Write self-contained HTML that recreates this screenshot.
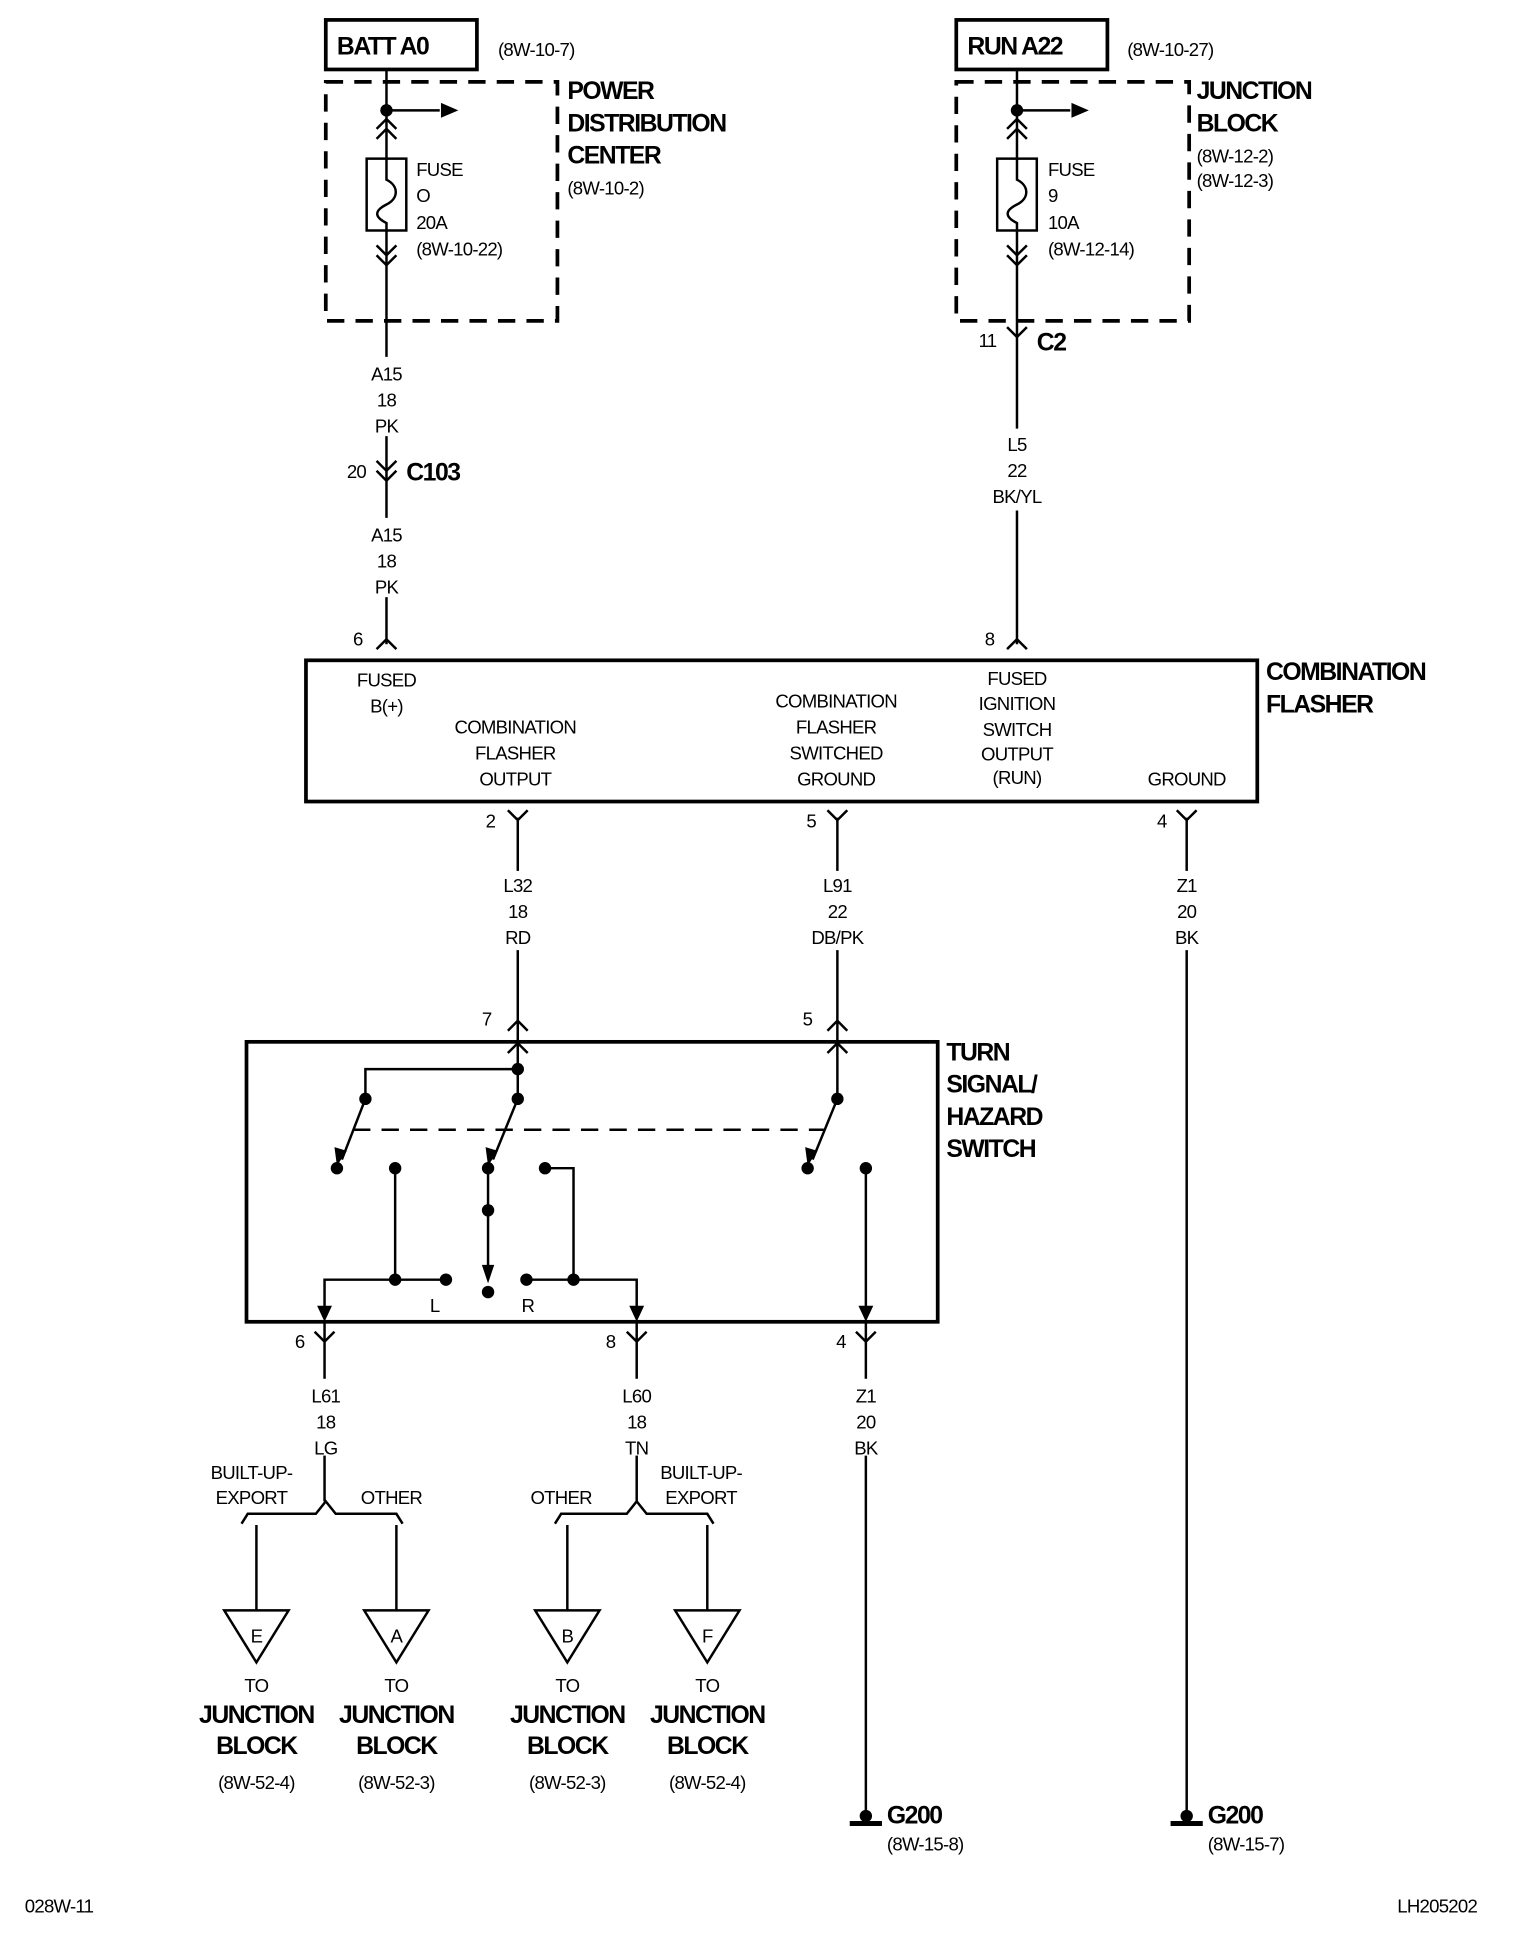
<!DOCTYPE html>
<html><head><meta charset="utf-8"><style>
html,body{margin:0;padding:0;background:#fff}
svg{display:block}
text{font-family:"Liberation Sans Narrow","Liberation Sans",sans-serif;fill:#000}
.t{font-size:15px;letter-spacing:-0.6px}
.b{font-size:20px;font-weight:bold;letter-spacing:-1.2px}
</style></head><body>
<svg width="1536" height="1940" viewBox="0 0 1240 1566" xmlns="http://www.w3.org/2000/svg">
<g stroke="#000" stroke-width="2" fill="none">
<!-- top left -->
<rect x="263" y="16" width="122" height="40" stroke-width="3"/>
<rect x="263" y="66" width="187" height="193" stroke-width="3" stroke-dasharray="14,9"/>
<line x1="312" y1="56" x2="312" y2="288"/>
<line x1="312" y1="352" x2="312" y2="418"/>
<line x1="312" y1="482" x2="312" y2="520"/>
<line x1="312" y1="89" x2="355" y2="89"/>
<polyline points="304,104 312,96 320,104"/><polyline points="304,112 312,104 320,112"/>
<rect x="296" y="128" width="32" height="58" fill="#fff"/>
<path d="M312 128 V145 C322 150 322 160 312 165 C302 170 302 175 312 180 V186"/>
<polyline points="304,198 312,206 320,198"/><polyline points="304,206 312,214 320,206"/>
<polyline points="304,372 312,380 320,372"/><polyline points="304,380 312,388 320,380"/>
<polyline points="304,524 312,516 320,524"/>
<!-- top right -->
<rect x="772" y="16" width="122" height="40" stroke-width="3"/>
<rect x="772" y="66" width="188" height="193" stroke-width="3" stroke-dasharray="14,9"/>
<line x1="821" y1="56" x2="821" y2="346"/>
<line x1="821" y1="412" x2="821" y2="520"/>
<line x1="821" y1="89" x2="864" y2="89"/>
<polyline points="813,104 821,96 829,104"/><polyline points="813,112 821,104 829,112"/>
<rect x="805" y="128" width="32" height="58" fill="#fff"/>
<path d="M821 128 V145 C831 150 831 160 821 165 C811 170 811 175 821 180 V186"/>
<polyline points="813,198 821,206 829,198"/><polyline points="813,206 821,214 829,206"/>
<polyline points="813,264 821,272 829,264"/>
<polyline points="813,524 821,516 829,524"/>
<!-- flasher -->
<rect x="247" y="533" width="768" height="114" stroke-width="3"/>
<line x1="418" y1="660" x2="418" y2="703"/><line x1="418" y1="767" x2="418" y2="841"/>
<line x1="676" y1="660" x2="676" y2="703"/><line x1="676" y1="767" x2="676" y2="841"/>
<line x1="958" y1="660" x2="958" y2="703"/><line x1="958" y1="767" x2="958" y2="1465"/>
<polyline points="410,654 418,662 426,654"/>
<polyline points="668,654 676,662 684,654"/>
<polyline points="950,654 958,662 966,654"/>
<polyline points="410,832 418,824 426,832"/>
<polyline points="668,832 676,824 684,832"/>
<polyline points="410,850 418,842 426,850"/>
<polyline points="668,850 676,842 684,850"/>
<!-- switch -->
<rect x="199" y="841" width="558" height="226" stroke-width="3"/>
<polyline points="418,841 418,887"/>
<polyline points="418,863 295,863 295,887"/>
<line x1="295" y1="887" x2="276" y2="936"/>
<line x1="418" y1="887" x2="398" y2="936"/>
<line x1="676" y1="841" x2="676" y2="887"/>
<line x1="676" y1="887" x2="656" y2="936"/>
<line x1="285" y1="912" x2="665" y2="912" stroke-dasharray="14,9"/>
<line x1="319" y1="943" x2="319" y2="1033"/>
<polyline points="262,1060 262,1033 360,1033"/>
<line x1="394" y1="943" x2="394" y2="1030"/>
<polyline points="440,943 463,943 463,1033"/>
<polyline points="425,1033 514,1033 514,1060"/>
<line x1="699" y1="943" x2="699" y2="1060"/>
<polyline points="254,1075 262,1083 270,1075"/>
<polyline points="506,1075 514,1083 522,1075"/>
<polyline points="691,1075 699,1083 707,1075"/>
<line x1="262" y1="1067" x2="262" y2="1113"/><line x1="262" y1="1175" x2="262" y2="1212"/>
<line x1="514" y1="1067" x2="514" y2="1113"/><line x1="514" y1="1175" x2="514" y2="1212"/>
<line x1="699" y1="1067" x2="699" y2="1113"/><line x1="699" y1="1175" x2="699" y2="1465"/>
<!-- braces -->
<polyline points="195,1230 200,1222 255,1222 263,1212 271,1222 320,1222 325,1230"/>
<polyline points="448,1230 453,1222 506,1222 514,1212 522,1222 571,1222 576,1230"/>
<line x1="207" y1="1231" x2="207" y2="1300"/>
<line x1="320" y1="1231" x2="320" y2="1300"/>
<line x1="458" y1="1231" x2="458" y2="1300"/>
<line x1="571" y1="1231" x2="571" y2="1300"/>
<polygon points="181,1300 233,1300 207,1342"/>
<polygon points="294,1300 346,1300 320,1342"/>
<polygon points="432,1300 484,1300 458,1342"/>
<polygon points="545,1300 597,1300 571,1342"/>
<line x1="686" y1="1472" x2="712" y2="1472" stroke-width="4"/>
<line x1="945" y1="1472" x2="971" y2="1472" stroke-width="4"/>
</g>
<g fill="#000">
<polygon points="370,89 356,83 356,95"/><polygon points="879,89 865,83 865,95"/>
<circle cx="312" cy="89" r="5"/><circle cx="821" cy="89" r="5"/>
<circle cx="418" cy="863" r="5"/><circle cx="418" cy="887" r="5"/><circle cx="295" cy="887" r="5"/>
<circle cx="676" cy="887" r="5"/>
<circle cx="272" cy="943" r="5"/><circle cx="319" cy="943" r="5"/><circle cx="394" cy="943" r="5"/><circle cx="440" cy="943" r="5"/>
<circle cx="652" cy="943" r="5"/><circle cx="699" cy="943" r="5"/>
<circle cx="394" cy="977" r="5"/><circle cx="394" cy="1043" r="5"/>
<circle cx="319" cy="1033" r="5"/><circle cx="360" cy="1033" r="5"/><circle cx="425" cy="1033" r="5"/><circle cx="463" cy="1033" r="5"/>
<polygon points="272,941 270,926 280,929"/><polygon points="394,941 392,926 402,929"/><polygon points="652,941 650,926 660,929"/>
<polygon points="394,1036 389,1021 399,1021"/>
<polygon points="262,1067 256,1054 268,1054"/><polygon points="514,1067 508,1054 520,1054"/><polygon points="699,1067 693,1054 705,1054"/>
<circle cx="699" cy="1466" r="5"/><circle cx="958" cy="1466" r="5"/>
</g>
<text class="b" x="272" y="44">BATT A0</text>
<text class="t" x="402" y="45">(8W-10-7)</text>
<text class="b" x="458" y="80">POWER</text><text class="b" x="458" y="106">DISTRIBUTION</text><text class="b" x="458" y="132">CENTER</text>
<text class="t" x="458" y="157">(8W-10-2)</text>
<text class="t" x="336" y="142">FUSE</text><text class="t" x="336" y="163">O</text><text class="t" x="336" y="185">20A</text><text class="t" x="336" y="206">(8W-10-22)</text>
<text class="b" x="781" y="44">RUN A22</text>
<text class="t" x="910" y="45">(8W-10-27)</text>
<text class="b" x="966" y="80">JUNCTION</text><text class="b" x="966" y="106">BLOCK</text>
<text class="t" x="966" y="131">(8W-12-2)</text><text class="t" x="966" y="151">(8W-12-3)</text>
<text class="t" x="846" y="142">FUSE</text><text class="t" x="846" y="163">9</text><text class="t" x="846" y="185">10A</text><text class="t" x="846" y="206">(8W-12-14)</text>
<g class="t" text-anchor="middle">
<text x="312" y="307">A15</text><text x="312" y="328">18</text><text x="312" y="349">PK</text>
<text x="312" y="437">A15</text><text x="312" y="458">18</text><text x="312" y="479">PK</text>
<text x="821" y="364">L5</text><text x="821" y="385">22</text><text x="821" y="406">BK/YL</text>
<text x="312" y="554">FUSED</text><text x="312" y="575">B(+)</text>
<text x="416" y="592">COMBINATION</text><text x="416" y="613">FLASHER</text><text x="416" y="634">OUTPUT</text>
<text x="675" y="571">COMBINATION</text><text x="675" y="592">FLASHER</text><text x="675" y="613">SWITCHED</text><text x="675" y="634">GROUND</text>
<text x="821" y="553">FUSED</text><text x="821" y="573">IGNITION</text><text x="821" y="594">SWITCH</text><text x="821" y="614">OUTPUT</text><text x="821" y="633">(RUN)</text>
<text x="958" y="634">GROUND</text>
<text x="418" y="720">L32</text><text x="418" y="741">18</text><text x="418" y="762">RD</text>
<text x="676" y="720">L91</text><text x="676" y="741">22</text><text x="676" y="762">DB/PK</text>
<text x="958" y="720">Z1</text><text x="958" y="741">20</text><text x="958" y="762">BK</text>
<text x="263" y="1132">L61</text><text x="263" y="1153">18</text><text x="263" y="1174">LG</text>
<text x="514" y="1132">L60</text><text x="514" y="1153">18</text><text x="514" y="1174">TN</text>
<text x="699" y="1132">Z1</text><text x="699" y="1153">20</text><text x="699" y="1174">BK</text>
<text x="203" y="1194">BUILT-UP-</text><text x="203" y="1214">EXPORT</text><text x="316" y="1214">OTHER</text>
<text x="453" y="1214">OTHER</text><text x="566" y="1194">BUILT-UP-</text><text x="566" y="1214">EXPORT</text>
<text x="207" y="1326">E</text><text x="320" y="1326">A</text><text x="458" y="1326">B</text><text x="571" y="1326">F</text>
<text x="207" y="1366">TO</text><text x="320" y="1366">TO</text><text x="458" y="1366">TO</text><text x="571" y="1366">TO</text>
<text x="207" y="1444">(8W-52-4)</text><text x="320" y="1444">(8W-52-3)</text><text x="458" y="1444">(8W-52-3)</text><text x="571" y="1444">(8W-52-4)</text>
</g>
<g class="b" text-anchor="middle">
<text x="207" y="1391">JUNCTION</text><text x="207" y="1416">BLOCK</text>
<text x="320" y="1391">JUNCTION</text><text x="320" y="1416">BLOCK</text>
<text x="458" y="1391">JUNCTION</text><text x="458" y="1416">BLOCK</text>
<text x="571" y="1391">JUNCTION</text><text x="571" y="1416">BLOCK</text>
</g>
<text class="t" x="280" y="386">20</text><text class="b" x="328" y="388">C103</text>
<text class="t" x="790" y="280">11</text><text class="b" x="837" y="283">C2</text>
<text class="t" x="285" y="521">6</text><text class="t" x="795" y="521">8</text>
<text class="b" x="1022" y="549">COMBINATION</text><text class="b" x="1022" y="575">FLASHER</text>
<text class="t" x="392" y="668">2</text><text class="t" x="651" y="668">5</text><text class="t" x="934" y="668">4</text>
<text class="t" x="389" y="828">7</text><text class="t" x="648" y="828">5</text>
<text class="b" x="764" y="856">TURN</text><text class="b" x="764" y="882">SIGNAL/</text><text class="b" x="764" y="908">HAZARD</text><text class="b" x="764" y="934">SWITCH</text>
<text class="t" x="347" y="1059">L</text><text class="t" x="421" y="1059">R</text>
<text class="t" x="238" y="1088">6</text><text class="t" x="489" y="1088">8</text><text class="t" x="675" y="1088">4</text>
<text class="b" x="716" y="1472">G200</text><text class="t" x="716" y="1494">(8W-15-8)</text>
<text class="b" x="975" y="1472">G200</text><text class="t" x="975" y="1494">(8W-15-7)</text>
<text class="t" x="20" y="1544">028W-11</text><text class="t" x="1128" y="1544">LH205202</text>
</svg>
</body></html>
